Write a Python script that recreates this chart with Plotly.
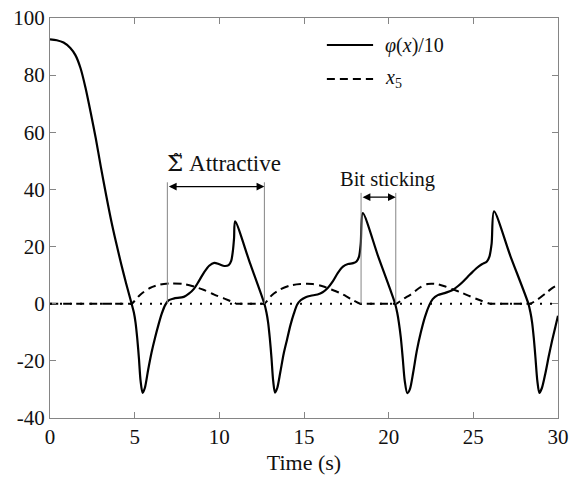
import plotly.graph_objects as go

# phi(x)/10 samples: time (s) and value
phi_t = [0, 0.4, 0.8, 1.2, 1.5, 1.8, 2.1, 2.4, 2.7, 3.0, 3.3, 3.6, 3.9, 4.2, 4.5, 4.82,
         4.95, 5.05, 5.15, 5.25, 5.35, 5.47, 5.6, 5.8, 6.0, 6.2, 6.4, 6.6, 6.8, 7.0,
         7.3, 7.9, 8.2, 8.5, 8.8, 9.1, 9.4, 9.7, 10.0, 10.3, 10.55, 10.7, 10.8, 10.87, 10.93,
         11.8, 12.66,
         12.78, 12.88, 12.98, 13.08, 13.18, 13.29, 13.42, 13.6, 13.8, 14.0, 14.2, 14.4, 14.6, 14.8,
         15.1, 15.4, 15.8, 16.1, 16.4, 16.7, 17.0, 17.3, 17.6, 17.9, 18.1, 18.25, 18.35, 18.47,
         19.4, 20.38,
         20.5, 20.6, 20.72, 20.83, 20.95, 21.1, 21.25, 21.45, 21.66, 21.9, 22.15, 22.4, 22.6,
         22.9, 23.3, 23.8, 24.1, 24.4, 24.8, 25.2, 25.5, 25.8, 25.95, 26.08, 26.22,
         27.2, 28.25,
         28.37, 28.47, 28.57, 28.67, 28.78, 28.9, 29.05, 29.25, 29.45, 29.65, 29.85, 30.0]
phi_v = [92.5, 92.2, 91.4, 89.5, 87, 82.5, 75.5, 67, 58, 48, 38.5, 29.5, 21.5, 14, 7, 0,
         -3, -6.5, -12, -19, -27, -31.2, -29.5, -23, -17, -12, -7.5, -3.5, -0.5, 1.2,
         1.8, 2.4, 3.5, 5.2, 8, 11, 13.3, 14.3, 13.8, 13.2, 13.5, 15, 18.5, 23, 28.8,
         14.4, 0,
         -3, -6.5, -12, -19, -27, -31.1, -29.5, -24, -17.5, -12.5, -7.5, -3.5, -0.3, 1.2,
         2.3, 2.8, 3.2, 4, 5.5, 7.8, 10.8, 13, 13.9, 14.2, 14.8, 16.5, 21, 31.7,
         16.2, 0,
         -3, -6.5, -12, -19, -27, -31.3, -30, -24, -16.5, -10, -4.5, -0.5, 1.6,
         3, 3.7, 4.9, 6.2, 7.8, 10.2, 12.5, 13.8, 14.8, 16.5, 21, 32.3,
         16.5, 0,
         -3, -6.5, -12, -19, -27, -31.2, -29.5, -24.5, -18.5, -13, -8, -4.2]

# x5 samples
x5_t = [0, 4.6, 4.82, 5.3, 5.9, 6.5, 7.2, 7.9, 8.5, 9.1, 9.7, 10.3, 10.9, 11.0, 11.2,
        12.45, 12.66, 13.1, 13.6, 14.2, 14.8, 15.5, 16.1, 16.6, 17.1, 17.5, 17.9, 18.3, 18.5,
        20.25, 20.45, 20.9, 21.3, 21.8, 22.3, 22.8, 23.3, 23.8, 24.3, 24.8, 25.4, 26.0, 26.2,
        28.15, 28.35, 28.8, 29.3, 29.7, 30.0]
x5_v = [0, 0, 0, 3, 5.5, 6.7, 7.1, 6.9, 6.0, 4.8, 3.2, 1.8, 0.3, 0, 0,
        0, 0, 3, 5, 6.4, 6.9, 6.9, 6.1, 5.0, 3.8, 2.6, 1.2, 0, 0,
        0, 0, 1.8, 3.2, 5.5, 6.9, 6.9, 6.1, 5.0, 3.9, 2.6, 1.2, 0, 0,
        0, 0, 1.5, 3.8, 5.6, 6.6]

x_ticks = [0, 5, 10, 15, 20, 25, 30]
y_ticks = [-40, -20, 0, 20, 40, 60, 80, 100]

# bracketed intervals: (start, end, arrow height)
attractive = (6.93, 12.66, 41.0)
sticking = (18.37, 20.42, 37.3)

SERIF = "'Liberation Serif', 'Times New Roman', serif"
GREY = "#858585"
INK = "#111"

fig = go.Figure()

fig.add_trace(go.Scatter(x=phi_t, y=phi_v, mode="lines", name="phi",
                         line=dict(color="black", width=2.2, shape="spline", smoothing=0.8),
                         showlegend=False))
fig.add_trace(go.Scatter(x=x5_t, y=x5_v, mode="lines", name="x5",
                         line=dict(color="black", width=2, dash="8px,5px",
                                   shape="spline", smoothing=0.8),
                         showlegend=False))

# dotted zero reference
fig.add_shape(type="line", x0=0, x1=30, y0=0, y1=0, xref="x", yref="y",
              line=dict(color="black", width=2, dash="2px,8px"), layer="above")

# interval brackets
for (a, b, h) in (attractive, sticking):
    for xv in (a, b):
        fig.add_shape(type="line", x0=xv, x1=xv, y0=0, y1=h + 1.5, xref="x", yref="y",
                      line=dict(color=GREY, width=1))
    fig.add_annotation(x=b, y=h, ax=a, ay=h, xref="x", yref="y", axref="x", ayref="y",
                       text="", showarrow=True, arrowhead=2, startarrowhead=2,
                       arrowside="end+start", arrowsize=1.2, arrowwidth=1.3,
                       arrowcolor="black", standoff=0, startstandoff=0)

# interval labels
fig.add_annotation(x=10.3, y=49.2, xref="x", yref="y", showarrow=False,
                   text="<span style=\"font-family:'DejaVu Serif'\">\u03a3\u0303</span> Attractive",
                   font=dict(family=SERIF, size=23, color=INK))
fig.add_annotation(x=19.92, y=43.4, xref="x", yref="y", showarrow=False,
                   text="Bit sticking",
                   font=dict(family=SERIF, size=20.5, color=INK))

# legend
leg_x0, leg_x1, leg_tx = 0.545, 0.636, 0.656
leg_rows = [(0.9325, "solid", "<i>\u03c6</i>(<i>x</i>)/10"),
            (0.8475, "8px,5px", "<i>x</i><sub>5</sub>")]
for (yy, dash, label) in leg_rows:
    fig.add_shape(type="line", xref="paper", yref="paper", x0=leg_x0, x1=leg_x1,
                  y0=yy, y1=yy, line=dict(color="black", width=2.2, dash=dash))
    fig.add_annotation(x=leg_tx, y=yy, xref="paper", yref="paper", showarrow=False,
                       xanchor="left", yanchor="middle", text=label,
                       font=dict(family=SERIF, size=20, color=INK))

axis_common = dict(showline=True, linecolor=GREY, linewidth=1.3, mirror="ticks",
                   ticks="inside", ticklen=6, tickcolor=GREY, tickwidth=1.2,
                   showgrid=False, zeroline=False, automargin=False,
                   tickfont=dict(family=SERIF, size=21, color=INK))

fig.update_xaxes(range=[0, 30], tickvals=x_ticks, ticktext=[str(v) for v in x_ticks],
                 title=dict(text="Time (s)", font=dict(family=SERIF, size=22, color=INK),
                            standoff=6),
                 **axis_common)
fig.update_yaxes(range=[-40, 100], tickvals=y_ticks, ticktext=[str(v) for v in y_ticks],
                 **axis_common)

fig.update_layout(width=571, height=482, margin=dict(l=50, r=13, t=18, b=64),
                  plot_bgcolor="white", paper_bgcolor="white", showlegend=False)

fig.write_html("out.html")
